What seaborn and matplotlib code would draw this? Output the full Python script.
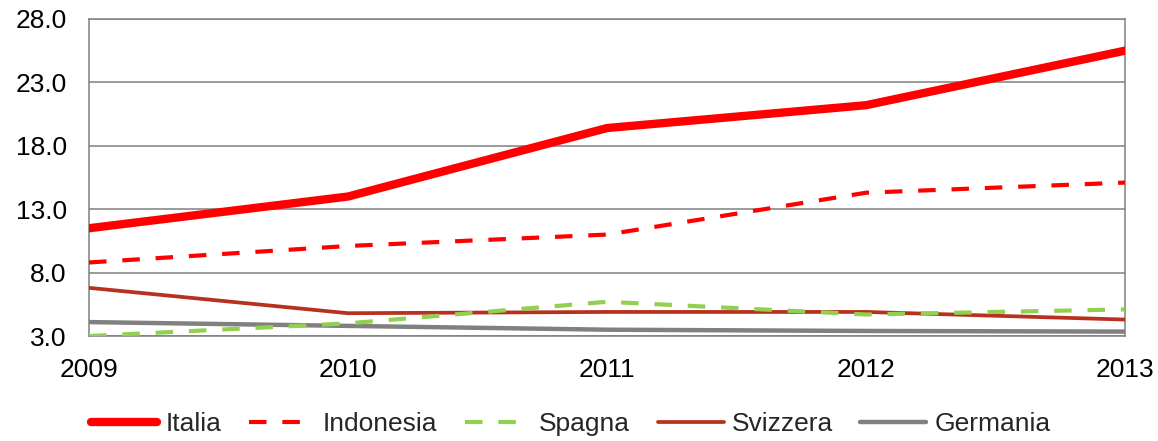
import matplotlib
matplotlib.use("Agg")
import matplotlib.pyplot as plt
import seaborn as sns
import pandas as pd

years = [2009, 2010, 2011, 2012, 2013]
italia = [11.5, 14.0, 19.4, 21.2, 25.5]
indonesia = [8.8, 10.1, 11.0, 14.3, 15.1]
spagna = [3.0, 4.0, 5.7, 4.7, 5.1]
svizzera = [6.8, 4.8, 4.9, 4.9, 4.3]
germania = [4.1, 3.8, 3.5, 3.4, 3.35]

y_ticks = [3.0, 8.0, 13.0, 18.0, 23.0, 28.0]

sns.set_theme(style="white")
plt.rcParams["font.family"] = ["Liberation Sans", "DejaVu Sans"]

series = {
    "Italia": italia,
    "Indonesia": indonesia,
    "Spagna": spagna,
    "Svizzera": svizzera,
    "Germania": germania,
}
df = pd.DataFrame(
    [(name, yr, v) for name, vals in series.items() for yr, v in zip(years, vals)],
    columns=["paese", "anno", "valore"],
)

styles = {
    "Italia": dict(color="#FF0000", lw=6.0, ls="-"),
    "Indonesia": dict(color="#FF0000", lw=3.0, ls=(0, (4.2, 3.8))),
    "Spagna": dict(color="#92D050", lw=3.0, ls=(0, (4.2, 3.8))),
    "Svizzera": dict(color="#B8311E", lw=2.7, ls="-"),
    "Germania": dict(color="#808080", lw=3.2, ls="-"),
}

fig = plt.figure(figsize=(11.58, 4.41), dpi=100)
ax = fig.add_axes([0.0769, 0.238, 0.8946, 0.719])

draw_order = ["Germania", "Svizzera", "Spagna", "Indonesia", "Italia"]
for name in draw_order:
    st = styles[name]
    sns.lineplot(
        data=df[df["paese"] == name], x="anno", y="valore", ax=ax,
        color=st["color"], linewidth=st["lw"], linestyle=st["ls"],
        label=name, legend=False, solid_capstyle="round",
        dash_capstyle="butt", zorder=3,
    )

ax.set_xlim(years[0], years[-1])
ax.set_ylim(y_ticks[0], y_ticks[-1])
ax.set_yticks(y_ticks)
ax.set_yticklabels([f"{t:.1f}" for t in y_ticks])
ax.set_xticks(years)
ax.set_xticklabels([str(y) for y in years])
ax.set_xlabel("")
ax.set_ylabel("")
ax.grid(axis="y", color="#808080", linewidth=1.1)
ax.grid(axis="x", visible=False)
for sp in ax.spines.values():
    sp.set_color("#808080")
    sp.set_linewidth(1.1)
ax.tick_params(axis="both", length=0, labelsize=19, colors="black")
ax.tick_params(axis="x", pad=16)
ax.tick_params(axis="y", pad=16)

handles_map = {l.get_label(): l for l in ax.get_lines()}
order = ["Italia", "Indonesia", "Spagna", "Svizzera", "Germania"]
handles = [handles_map[n] for n in order]
fig.legend(
    handles, order, loc="center", bbox_to_anchor=(0.493, 0.039), ncol=5,
    frameon=False, fontsize=19, handlelength=2.5, handletextpad=0.3,
    columnspacing=1.05,
)

fig.savefig("out.png", dpi=100)
